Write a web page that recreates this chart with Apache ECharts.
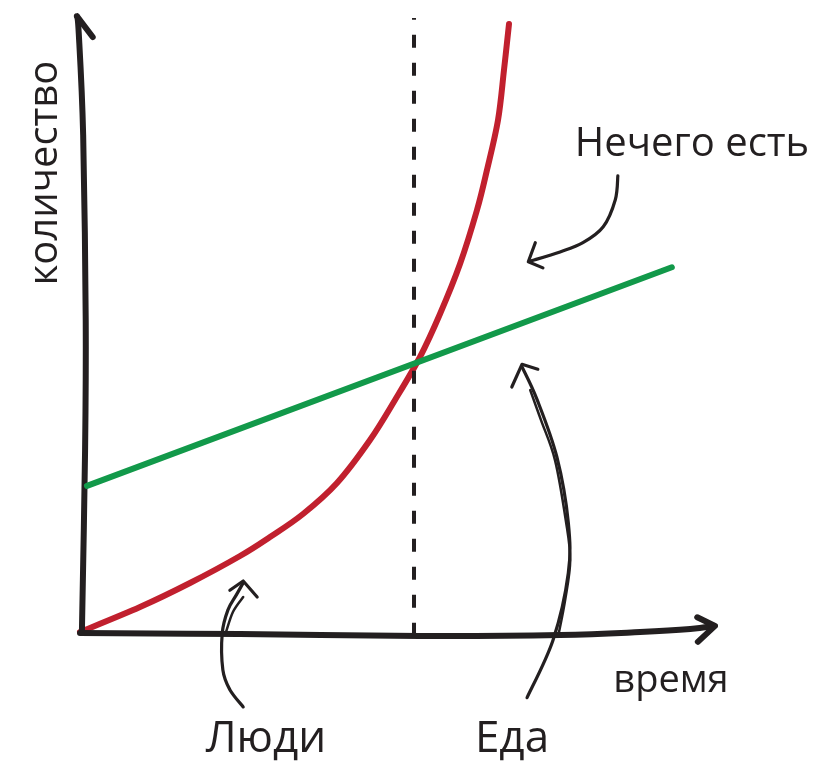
<!DOCTYPE html>
<html>
<head>
<meta charset="utf-8">
<script src="https://cdn.jsdelivr.net/npm/echarts@6/dist/echarts.min.js"></script>
<style>html,body{margin:0;padding:0;background:#fff}#c{width:820px;height:764px}</style>
</head>
<body>
<div id="c"></div>
<script>
// ---- data (axis units: x = время 0..100, y = количество 0..100) ----
var peopleX = [0, 9.45, 17.32, 25.20, 29.92, 35.12, 40.47, 45.67, 49.61, 53.54, 56.69, 59.84, 62.52, 64.09, 65.83, 66.77, 67.56];
var peopleY = [0, 4.07, 7.98, 12.38, 15.47, 19.22, 24.27, 31.27, 37.79, 44.79, 51.79, 59.93, 68.73, 75.24, 83.39, 91.53, 99.02];
var foodX = [1.1, 93.2];
var foodY = [23.8, 59.4];
var crossX = 52.6;

// hand-drawn axes and annotation arrows (axis units)
var yAxisLineX = [0.3, 0.8, 0.9, 0.5, -0.2, -0.5];
var yAxisLineY = [0, 29.6, 50.8, 80.9, 97.6, 100.3];
var yArrowX = [-2.4, -0.5, 2.0];
var yArrowY = [97.6, 100.3, 96.9];
var xAxisLineX = [0, 25.2, 53.5, 75.6, 88.2, 96.1, 99.8];
var xAxisLineY = [-0.16, -0.33, -0.65, -0.5, 0, 0.5, 1.0];
var xArrowX = [97.2, 100, 97.3];
var xArrowY = [2.4, 1.0, -1.6];

var hungerArcX = [84.7, 84.3, 82.4, 79.2, 75.6, 70.9];
var hungerArcY = [74.3, 70.4, 66.0, 63.4, 61.9, 60.4];
var hungerHeadX = [71.7, 70.6, 72.9];
var hungerHeadY = [63.4, 60.3, 59.3];

var peopleArcX = [25.7, 23.6, 22.5, 22.4, 23.3, 24.6, 25.7];
var peopleArcY = [-12.2, -9.4, -6.2, -0.2, 3.6, 6.0, 8.0];
var peopleArc2X = [25.7, 24.1, 23.0];
var peopleArc2Y = [5.7, 3.3, 0];
var peopleHeadX = [23.6, 25.7, 27.9];
var peopleHeadY = [6.8, 8.3, 5.7];

var foodArcX = [70.4, 74.5, 76.9, 76.9, 75.1, 72.0, 69.6];
var foodArcY = [-10.7, -1.3, 9.6, 17.8, 28.5, 37.8, 43.2];
var foodArc2X = [70.9, 72.6, 74.8, 76.5, 77.2, 76.4, 75.4];
var foodArc2Y = [39.4, 34.5, 28.0, 18.2, 11.7, 5.2, -0.2];
var foodHeadX = [68.0, 69.6, 72.1];
var foodHeadY = [39.9, 43.6, 42.8];

var labels = {
  y: 'количество', x: 'время', hunger: 'Нечего есть', people: 'Люди', food: 'Еда'
};

function pts(xs, ys) { return xs.map(function (x, i) { return [x, ys[i]]; }); }

var INK = '#231f20';
var RED = '#c1202e';
var GREEN = '#12994a';
var FONT = '"Open Sans", sans-serif';

// Smooth (Catmull-Rom) stroke through data points, positioned by the chart's axes
function curve(name, data, color, width) {
  return {
    name: name, type: 'custom', data: data, silent: true, clip: false,
    renderItem: function (params, api) {
      if (params.dataIndex !== 0) return null;
      var p = data.map(function (d) { return api.coord(d); });
      var s = 'M' + p[0][0] + ' ' + p[0][1];
      for (var i = 0; i < p.length - 1; i++) {
        var p0 = p[i > 0 ? i - 1 : i], p1 = p[i], p2 = p[i + 1], p3 = p[i + 2 < p.length ? i + 2 : i + 1];
        var c1x = p1[0] + (p2[0] - p0[0]) / 6, c1y = p1[1] + (p2[1] - p0[1]) / 6;
        var c2x = p2[0] - (p3[0] - p1[0]) / 6, c2y = p2[1] - (p3[1] - p1[1]) / 6;
        s += ' C' + c1x + ' ' + c1y + ' ' + c2x + ' ' + c2y + ' ' + p2[0] + ' ' + p2[1];
      }
      return {
        type: 'path', shape: { pathData: s },
        style: { fill: 'none', stroke: color, lineWidth: width, lineCap: 'round', lineJoin: 'round' }
      };
    }
  };
}

function poly(name, data, width) {
  return {
    name: name, type: 'line', data: data, smooth: false,
    symbol: 'none', clip: false, silent: true,
    lineStyle: { color: INK, width: width, cap: 'round', join: 'round' }
  };
}

var chart = echarts.init(document.getElementById('c'), null, { renderer: 'canvas' });
chart.setOption({
  backgroundColor: '#fff',
  animation: false,
  grid: { left: 80, right: 105, top: 18, bottom: 132 },
  xAxis: { type: 'value', min: 0, max: 100, show: false },
  yAxis: { type: 'value', min: 0, max: 100, show: false },
  series: [
    {
      name: 'crossing', type: 'line', symbol: 'none', clip: false, silent: true,
      data: [[crossX, -0.6], [crossX, 100]],
      lineStyle: { color: INK, width: 4, type: [13, 15] }
    },
    {
      name: 'Еда', type: 'line', symbol: 'none', clip: false, silent: true,
      data: pts(foodX, foodY),
      lineStyle: { color: GREEN, width: 6, cap: 'round' }
    },
    curve('Люди', pts(peopleX, peopleY), RED, 6),
    curve('yaxis', pts(yAxisLineX, yAxisLineY), INK, 6),
    poly('yarrow', pts(yArrowX, yArrowY), 6),
    curve('xaxis', pts(xAxisLineX, xAxisLineY), INK, 6),
    poly('xarrow', pts(xArrowX, xArrowY), 6),
    curve('hungerArc', pts(hungerArcX, hungerArcY), INK, 3.2),
    poly('hungerHead', pts(hungerHeadX, hungerHeadY), 3.2),
    curve('peopleArc', pts(peopleArcX, peopleArcY), INK, 3.2),
    curve('peopleArc2', pts(peopleArc2X, peopleArc2Y), INK, 2.5),
    poly('peopleHead', pts(peopleHeadX, peopleHeadY), 3.2),
    curve('foodArc', pts(foodArcX, foodArcY), INK, 3.2),
    curve('foodArc2', pts(foodArc2X, foodArc2Y), INK, 2.5),
    poly('foodHead', pts(foodHeadX, foodHeadY), 3.2)
  ],
  graphic: [
    { type: 'text', x: 46, y: 173, rotation: Math.PI / 2,
      style: { text: labels.y, font: '40px ' + FONT, fill: INK, textAlign: 'center', textVerticalAlign: 'middle' } },
    { type: 'text', x: 671, y: 681,
      style: { text: labels.x, font: '38px ' + FONT, fill: INK, textAlign: 'center', textVerticalAlign: 'middle' } },
    { type: 'text', x: 692, y: 145,
      style: { text: labels.hunger, font: '40px ' + FONT, fill: INK, textAlign: 'center', textVerticalAlign: 'middle' } },
    { type: 'text', x: 266, y: 739,
      style: { text: labels.people, font: '44px ' + FONT, fill: INK, textAlign: 'center', textVerticalAlign: 'middle' } },
    { type: 'text', x: 512, y: 739,
      style: { text: labels.food, font: '44px ' + FONT, fill: INK, textAlign: 'center', textVerticalAlign: 'middle' } }
  ]
});
</script>
</body>
</html>
